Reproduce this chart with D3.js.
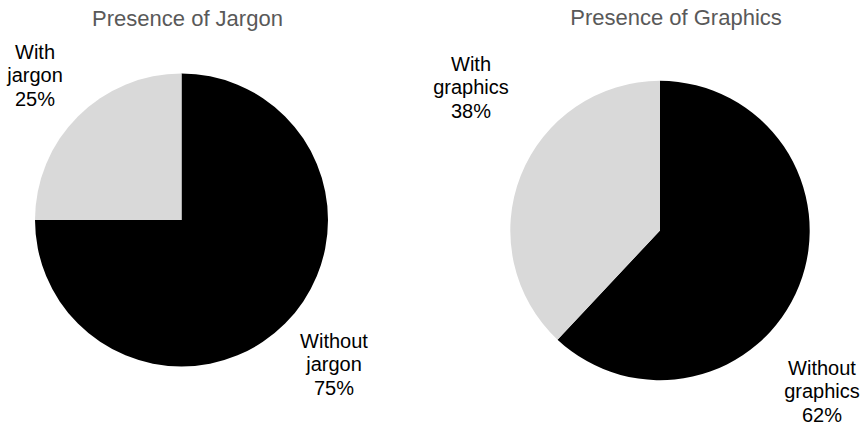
<!DOCTYPE html>
<html>
<head>
<meta charset="utf-8">
<script src="https://cdn.jsdelivr.net/npm/d3@7"></script>
<style>
  html, body { margin: 0; padding: 0; background: #fff; }
  svg { display: block; font-family: "Liberation Sans", Arial, sans-serif; }
</style>
</head>
<body>
<svg id="chart" width="864" height="426"></svg>
<script>
// Data
const titles = ["Presence of Jargon", "Presence of Graphics"];
const jargonCategories = ["Without jargon", "With jargon"];
const jargonValues = [75, 25];
const graphicsCategories = ["Without graphics", "With graphics"];
const graphicsValues = [62, 38];
const colors = ["#000000", "#d9d9d9"];

const svg = d3.select("#chart");

const charts = [
  { title: titles[0], cats: jargonCategories, vals: jargonValues,
    cx: 181.5, cy: 220, r: 146.5, titleX: 187.5, titleY: 26,
    labels: [ {x: 334, y: 348}, {x: 35, y: 59} ] },
  { title: titles[1], cats: graphicsCategories, vals: graphicsValues,
    cx: 660, cy: 230.5, r: 149.7, titleX: 676, titleY: 25,
    labels: [ {x: 822, y: 375}, {x: 471, y: 71} ] }
];

const pie = d3.pie().sort(null).value(d => d);
const color = d3.scaleOrdinal().domain([0, 1]).range(colors);

charts.forEach(c => {
  const total = d3.sum(c.vals);
  const arc = d3.arc().innerRadius(0).outerRadius(c.r);
  const g = svg.append("g").attr("transform", `translate(${c.cx},${c.cy})`);
  g.selectAll("path")
    .data(pie(c.vals))
    .join("path")
    .attr("d", arc)
    .attr("fill", (d, i) => color(i));

  svg.append("text")
    .attr("x", c.titleX).attr("y", c.titleY)
    .attr("text-anchor", "middle")
    .attr("font-size", 22)
    .attr("fill", "#595959")
    .text(c.title);

  c.cats.forEach((cat, i) => {
    const words = cat.split(" ");
    const lines = [words[0], words.slice(1).join(" "), Math.round(c.vals[i] / total * 100) + "%"];
    const t = svg.append("text")
      .attr("text-anchor", "middle")
      .attr("font-size", 20)
      .attr("fill", "#000");
    lines.forEach((ln, k) => {
      t.append("tspan")
        .attr("x", c.labels[i].x)
        .attr("y", c.labels[i].y + k * 23.3)
        .text(ln);
    });
  });
});
</script>
</body>
</html>
